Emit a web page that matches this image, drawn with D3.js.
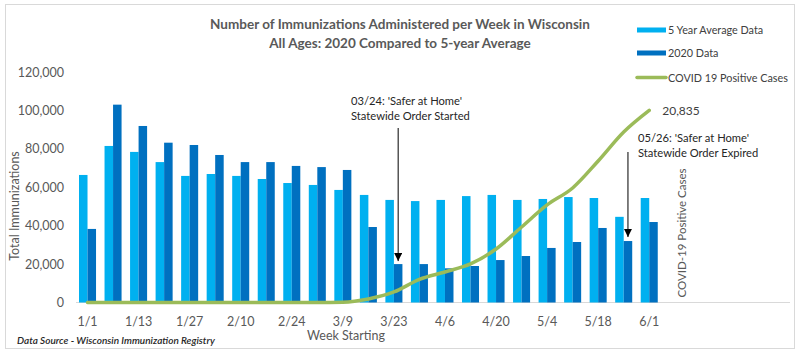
<!DOCTYPE html>
<html>
<head>
<meta charset="utf-8">
<script src="https://cdn.jsdelivr.net/npm/d3@7"></script>
<style>
  html, body { margin: 0; padding: 0; background: #fff; }
  svg { display: block; }
  text { font-family: Lato, "Open Sans", sans-serif; }
</style>
</head>
<body>
<svg id="chart" width="802" height="357"></svg>
<script>
// ---- data ----
const weeks = ["1/1","1/6","1/13","1/20","1/27","2/3","2/10","2/17","2/24","3/2","3/9","3/16",
               "3/23","3/30","4/6","4/13","4/20","4/27","5/4","5/11","5/18","5/25","6/1"];
const tickLabels = ["1/1","1/13","1/27","2/10","2/24","3/9","3/23","4/6","4/20","5/4","5/18","6/1"];
const avg5yr = [66400,81500,78400,73100,65900,66900,65900,64300,62200,61200,58600,56000,
                53400,52800,53400,55400,56000,53400,53900,54900,54400,44600,54400];
const data2020 = [38300,103000,91900,83200,82000,76800,73100,73100,71100,70500,69000,39300,
                  20000,20000,17800,19000,22100,24200,28400,31500,38800,32000,41900];
const covidCases = [0,0,0,0,0,0,0,0,0,0,30,380,1140,2500,3310,4180,5800,8190,10580,12420,15350,18490,20835];
const yTicks = [0,20000,40000,60000,80000,100000,120000];
const legendLabels = ["5 Year Average Data","2020 Data","COVID 19 Positive Cases"];

const colors = { avg: "#00b0f0", y2020: "#0070c0", covid: "#9bbb59" };

const svg = d3.select("#chart");

// frame
svg.append("rect").attr("x",5.5).attr("y",4.5).attr("width",789).attr("height",344)
  .attr("fill","none").attr("stroke","#d9d9d9");

// scales
const x = d3.scaleBand().domain(weeks).range([74.75, 662]).padding(0);
const groupW = x.bandwidth() * 0.667;
const y = d3.scaleLinear().domain([0,120000]).range([302.5, 72]);
const y2 = d3.scaleLinear().domain([0,25000]).range([302.5, 72]);

// y axis labels
const yAxis = d3.axisLeft(y).tickValues(yTicks).tickFormat(d3.format(",")).tickSize(0).tickPadding(0);
const gy = svg.append("g").attr("transform","translate(64,0)").call(yAxis);
gy.select(".domain").remove();
gy.selectAll("text").attr("fill","#595959").style("font-size","12.5px").style("font-family","Lato, sans-serif");

// baseline
svg.append("line").attr("x1",76).attr("x2",790).attr("y1",y(0)).attr("y2",y(0))
  .attr("stroke","#d9d9d9").attr("stroke-width",1);

// bars
const groups = svg.append("g");
weeks.forEach((w,i) => {
  const gx = x(w) + (x.bandwidth() - groupW)/2;
  groups.append("rect").attr("x",gx).attr("width",groupW/2)
    .attr("y",y(avg5yr[i])).attr("height",y(0)-y(avg5yr[i])).attr("fill",colors.avg);
  groups.append("rect").attr("x",gx+groupW/2).attr("width",groupW/2)
    .attr("y",y(data2020[i])).attr("height",y(0)-y(data2020[i])).attr("fill",colors.y2020);
});

// x axis labels
const xAxis = d3.axisBottom(x).tickValues(tickLabels).tickSize(0).tickPadding(0);
const gx = svg.append("g").attr("transform",`translate(0,${y(0)+23})`).call(xAxis);
gx.select(".domain").remove();
gx.selectAll("text").attr("fill","#595959").attr("dy","0").style("font-size","12.5px").style("font-family","Lato, sans-serif");

// covid line
const line = d3.line()
  .x((d,i) => x(weeks[i]) + x.bandwidth()/2)
  .y(d => y2(d))
  .curve(d3.curveMonotoneX);
svg.append("path").datum(covidCases).attr("d",line)
  .attr("fill","none").attr("stroke",colors.covid).attr("stroke-width",3.5)
  .attr("stroke-linecap","round").attr("stroke-linejoin","round");

// data label
const lastI = covidCases.length - 1;
svg.append("text").attr("x", x(weeks[lastI]) + x.bandwidth()/2 + 13).attr("y", y2(covidCases[lastI]) + 5)
  .attr("fill","#404040").style("font-size","12px").text(d3.format(",")(covidCases[lastI]));

// arrow marker
const defs = svg.append("defs");
defs.append("marker").attr("id","arrow").attr("viewBox","0 0 10 10").attr("refX",10).attr("refY",5)
  .attr("markerWidth",8).attr("markerHeight",8).attr("markerUnits","userSpaceOnUse").attr("orient","auto")
  .append("path").attr("d","M0,0 L10,5 L0,10 Z").attr("fill","#000");

function annotate(week, lines, textX, textY, yTop, tipPad) {
  const ax = x(week) + (x.bandwidth() - groupW)/2 + groupW*0.75;
  const i = weeks.indexOf(week);
  svg.append("line").attr("x1",ax).attr("x2",ax).attr("y1",yTop).attr("y2",y(data2020[i]) - tipPad)
    .attr("stroke","#000").attr("stroke-width",1).attr("marker-end","url(#arrow)");
  const t = svg.append("text").attr("fill","#262626").style("font-size","11.2px");
  lines.forEach((l,k) => t.append("tspan").attr("x",textX).attr("y",textY + k*14.5).text(l));
}
annotate("3/23", ["03/24: 'Safer at Home'","Statewide Order Started"], 351, 105, 128, 3);
annotate("5/25", ["05/26: 'Safer at Home'","Statewide Order Expired"], 638, 142, 152, 4);

// axis titles
svg.append("text").attr("transform","translate(19,206) rotate(-90)").attr("text-anchor","middle")
  .attr("fill","#595959").style("font-size","12.5px").text("Total Immunizations");
svg.append("text").attr("transform","translate(686,233) rotate(-90)").attr("text-anchor","middle")
  .attr("fill","#595959").style("font-size","11.5px").text("COVID-19 Positive Cases");
svg.append("text").attr("x",346).attr("y",340).attr("text-anchor","middle")
  .attr("fill","#595959").style("font-size","12.5px").text("Week Starting");
svg.append("text").attr("x",17).attr("y",344)
  .attr("fill","#262626").style("font-size","10px").style("font-style","italic").style("font-weight","600")
  .text("Data Source - Wisconsin Immunization Registry");

// title
const title = svg.append("text").attr("text-anchor","middle").attr("fill","#595959")
  .style("font-size","13.5px").style("font-weight","bold");
title.append("tspan").attr("x",400).attr("y",29).text("Number of Immunizations Administered per Week in Wisconsin");
title.append("tspan").attr("x",400).attr("y",48).text("All Ages: 2020 Compared to 5-year Average");

// legend
const leg = svg.append("g");
const legY = [30, 53, 77.5];
legendLabels.forEach((lab,k) => {
  if (k < 2) {
    leg.append("rect").attr("x",637).attr("y",legY[k]-2.5).attr("width",29).attr("height",5)
      .attr("fill", k===0 ? colors.avg : colors.y2020);
  } else {
    leg.append("line").attr("x1",637).attr("x2",666).attr("y1",legY[k]).attr("y2",legY[k])
      .attr("stroke",colors.covid).attr("stroke-width",3.5).attr("stroke-linecap","round");
  }
  leg.append("text").attr("x",668).attr("y",legY[k]+4).attr("fill","#404040")
    .style("font-size","10.8px").text(lab);
});
</script>
</body>
</html>
